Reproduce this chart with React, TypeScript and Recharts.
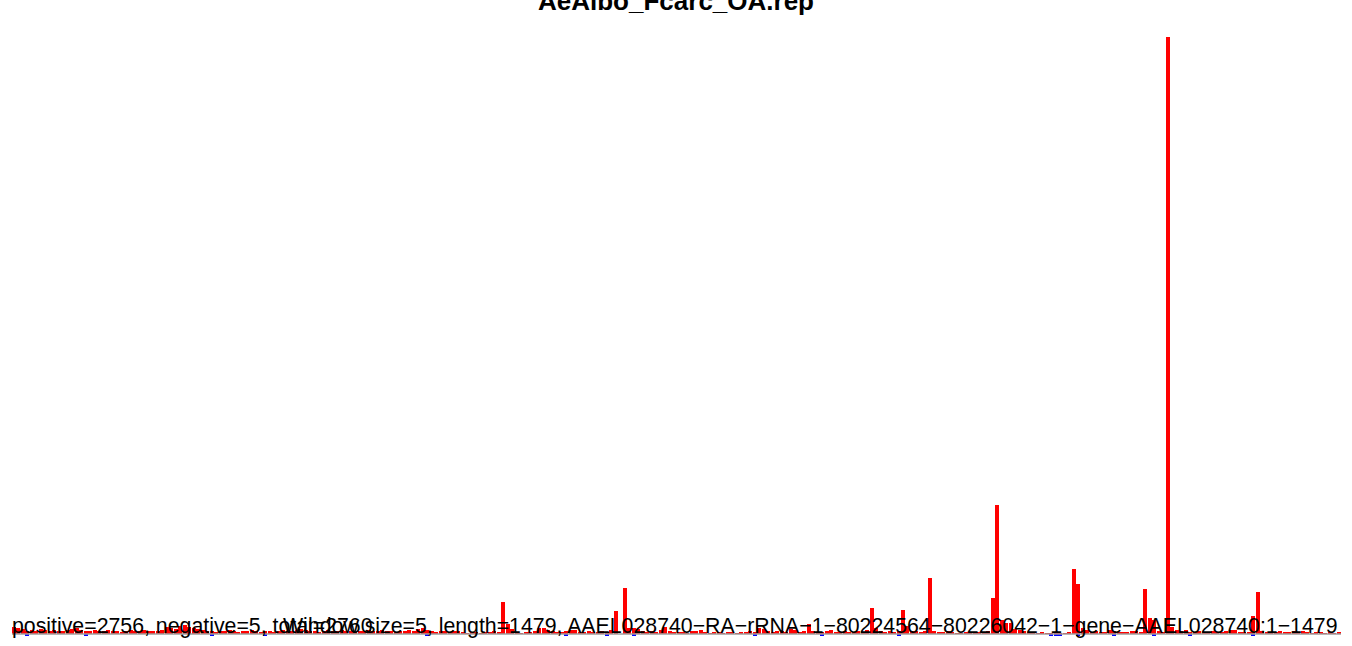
import { Bar, BarChart, ReferenceLine, XAxis, YAxis } from "recharts";

const title = "AeAlbo_Fcarc_OA.rep";
const summaryText = "positive=2756, negative=5, total=2760";
const windowText =
  "Window size=5, length=1479, AAEL028740\u2212RA\u2212rRNA\u22121\u221280224564\u221280226042\u22121\u2212gene\u2212AAEL028740:1\u22121479";

const windowSize = 5;

// coverage per 5-nt window (296 windows)
const positive = [
  7, 6, 5, 3, 4, 3, 5, 4, 3, 4, 3, 3, 4, 5, 6, 4, 3, 3, 4, 3,
  3, 4, 3, 3, 2, 3, 4, 3, 3, 4, 3, 3, 3, 4, 7, 6, 5, 8, 9, 7,
  6, 5, 4, 3, 3, 2, 3, 3, 4, 3, 2, 3, 3, 4, 3, 2, 3, 3, 2, 3,
  4, 3, 3, 4, 5, 4, 3, 3, 2, 3, 4, 3, 3, 4, 3, 3, 2, 3, 3, 4,
  3, 3, 4, 3, 3, 2, 3, 3, 4, 3, 5, 6, 4, 3, 2, 3, 3, 2, 3, 3,
  2, 1, 2, 2, 1, 2, 2, 3, 2, 32, 10, 5, 2, 1, 2, 2, 3, 6, 6, 4,
  3, 2, 2, 3, 4, 4, 2, 2, 3, 2, 2, 3, 2, 4, 23, 0, 46, 6, 6, 5,
  3, 2, 3, 2, 4, 7, 3, 2, 2, 2, 1, 3, 3, 4, 2, 1, 2, 2, 1, 2,
  2, 1, 2, 2, 3, 2, 6, 5, 3, 2, 3, 3, 2, 5, 4, 2, 3, 10, 3, 2,
  2, 3, 4, 2, 2, 3, 2, 2, 3, 2, 4, 26, 6, 3, 2, 3, 2, 3, 24, 8,
  3, 3, 2, 3, 56, 3, 2, 2, 3, 2, 1, 1, 2, 2, 1, 2, 2, 3, 36, 129,
  14, 11, 11, 5, 4, 3, 2, 2, 1, 2, 1, 1, 1, 1, 1, 2, 65, 50, 6, 4,
  2, 3, 2, 2, 4, 3, 2, 2, 2, 3, 3, 2, 45, 16, 14, 3, 2, 597, 7, 4,
  3, 4, 2, 2, 3, 2, 2, 3, 2, 2, 3, 4, 4, 2, 2, 2, 18, 42, 3, 2,
  2, 2, 3, 2, 2, 3, 2, 3, 2, 1, 2, 2, 1, 2, 1, 2,
];

// windows with reads on the minus strand
const negativeWindows = [3, 16, 44, 56, 92, 123, 132, 138, 165, 180, 197, 231, 232, 233, 237, 245, 254, 262, 276];
const negativeValues = [-1.5, -1.5, -1.5, -1.5, -1.5, -1.5, -1.5, -1.5, -1.5, -1.5, -1.5, -1.5, -1.5, -1.5, -1.5, -1.5, -1.5, -1.5, -1.5];

const data = positive.map((pos, i) => {
  const k = negativeWindows.indexOf(i);
  return { start: i * windowSize + 1, pos, neg: k >= 0 ? negativeValues[k] : 0 };
});

const W = 1352;
const H = 646;

export default function App() {
  return (
    <div style={{ position: "absolute", left: 0, top: 0, width: W, height: H, background: "#fff" }}>
      <style>{`.recharts-rectangle { shape-rendering: crispEdges; }`}</style>
      <BarChart
        width={W}
        height={H}
        data={data}
        stackOffset="sign"
        barCategoryGap={0}
        barGap={0}
        margin={{ top: 37, right: 11, bottom: 7, left: 12 }}
      >
        <XAxis dataKey="start" hide />
        <YAxis hide domain={[-5, 597]} allowDataOverflow />
        <ReferenceLine y={0} stroke="#9e9e9e" strokeWidth={1.5} />
        <Bar dataKey="pos" stackId="s" fill="#ff0000" isAnimationActive={false} />
        <Bar dataKey="neg" stackId="s" fill="#0000ff" isAnimationActive={false} />
      </BarChart>
      <svg
        width={W}
        height={H}
        style={{ position: "absolute", left: 0, top: 0, pointerEvents: "none" }}
        fontFamily="'Liberation Sans', Arial, sans-serif"
      >
        <text x={676} y={10} textAnchor="middle" fontSize={26} fontWeight="bold" fill="#000">
          {title}
        </text>
        <text x={12} y={633} fontSize={21.3} fill="#000">
          {summaryText}
        </text>
        <text x={283} y={633} fontSize={21.3} fill="#000">
          {windowText}
        </text>
      </svg>
    </div>
  );
}
